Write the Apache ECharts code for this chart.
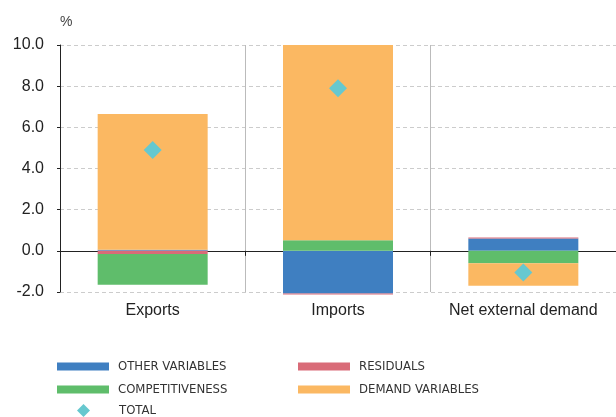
<!DOCTYPE html>
<html>
<head>
<meta charset="utf-8">
<script src="https://cdn.jsdelivr.net/npm/echarts@6/dist/echarts.min.js"></script>
<style>
  html, body { margin: 0; padding: 0; background: #fff; }
  #chart { width: 616px; height: 417px; }
</style>
</head>
<body>
<div id="chart"></div>
<script>
var categories = ['Exports', 'Imports', 'Net external demand'];
var otherVariables = [0.05, -2.07, 0.6];
var residuals = [-0.15, -0.05, 0.05];
var competitiveness = [-1.5, 0.52, -0.6];
var demandVariables = [6.6, 9.48, -1.1];
var total = [4.9, 7.9, -1.05];
var yTicks = { min: -2, max: 10, interval: 2 };

var legendFont = { fontFamily: '"Liberation Sans Narrow", "DejaVu Sans Condensed", sans-serif', fontSize: 13, color: '#333', padding: [0, 0, 0, 4] };

var chart = echarts.init(document.getElementById('chart'));
var option = {
    animation: false,
    textStyle: { fontFamily: '"Liberation Sans", Arial, sans-serif' },
    grid: { left: 60, right: 0, top: 45, bottom: 125 },
    legend: [{
        left: 57, top: 360, orient: 'vertical', itemGap: 10, padding: 0,
        itemWidth: 52, itemHeight: 8, icon: 'rect',
        textStyle: legendFont,
        data: ['OTHER VARIABLES', 'COMPETITIVENESS']
    }, {
        left: 298, top: 360, orient: 'vertical', itemGap: 10, padding: 0,
        itemWidth: 52, itemHeight: 8, icon: 'rect',
        textStyle: legendFont,
        data: ['RESIDUALS', 'DEMAND VARIABLES']
    }, {
        left: 77, top: 404, padding: 0,
        itemWidth: 13, itemHeight: 13,
        textStyle: { fontFamily: legendFont.fontFamily, fontSize: 13, color: '#333', padding: [0, 0, 0, 24] },
        data: [{ name: 'TOTAL', icon: 'diamond' }]
    }],
    xAxis: [{
        type: 'category',
        data: categories,
        position: 'bottom',
        axisLine: { show: false, onZero: false },
        axisTick: { show: false },
        axisLabel: { color: '#222', fontSize: 16, margin: 11, interval: 0 },
        splitLine: { show: true, interval: 0, lineStyle: { color: '#bbb', type: 'solid' } }
    }, {
        type: 'category',
        data: categories,
        position: 'bottom',
        axisLine: { show: true, onZero: true, lineStyle: { color: '#222', width: 1 } },
        axisTick: { show: true, interval: 0, length: 5, lineStyle: { color: '#222' } },
        axisLabel: { show: false },
        splitLine: { show: false }
    }],
    yAxis: {
        type: 'value',
        min: yTicks.min,
        max: yTicks.max,
        interval: yTicks.interval,
        name: '%',
        nameGap: 16,
        nameTextStyle: { color: '#444', fontSize: 14, align: 'left', padding: [0, 0, 0, 0] },
        axisLine: { show: true, lineStyle: { color: '#222' } },
        axisTick: { show: true, length: 3, lineStyle: { color: '#222' } },
        axisLabel: {
            color: '#222', fontSize: 16, margin: 16,
            formatter: function (v) { return v.toFixed(1); }
        },
        splitLine: { show: true, lineStyle: { color: '#ccc', type: [4, 3] } }
    },
    series: [{
        name: 'OTHER VARIABLES', type: 'bar', stack: 'tot', barWidth: 110, clip: false,
        itemStyle: { color: '#3F7FC1' }, data: otherVariables
    }, {
        name: 'RESIDUALS', type: 'bar', stack: 'tot', barWidth: 110, clip: false,
        itemStyle: { color: '#D96B78' }, data: residuals
    }, {
        name: 'COMPETITIVENESS', type: 'bar', stack: 'tot', barWidth: 110, clip: false,
        itemStyle: { color: '#5FBD6B' }, data: competitiveness
    }, {
        name: 'DEMAND VARIABLES', type: 'bar', stack: 'tot', barWidth: 110, clip: false,
        itemStyle: { color: '#FBB862' }, data: demandVariables
    }, {
        name: 'TOTAL', type: 'scatter', symbol: 'diamond', symbolSize: 18, z: 5,
        itemStyle: { color: '#66C8CF', opacity: 1 }, data: total
    }]
};
chart.setOption(option);
</script>
</body>
</html>
